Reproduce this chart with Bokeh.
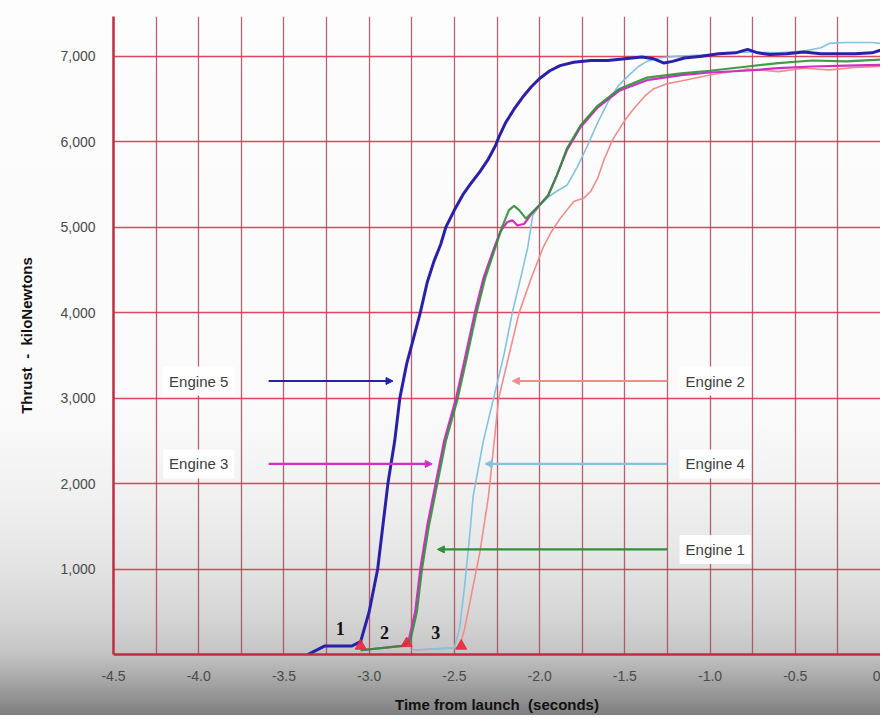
from bokeh.plotting import figure
from bokeh.models import FixedTicker, NumeralTickFormatter, Label, Arrow, NormalHead, Range1d
from bokeh.embed import file_html
from bokeh.resources import INLINE
from bokeh.core.properties import value

# ---------------- data ----------------
e5_t = [-3.36, -3.30, -3.26, -3.10, -3.05, -3.00, -2.95, -2.92, -2.89, -2.85, -2.82, -2.78, -2.74,
        -2.70, -2.66, -2.62, -2.58, -2.55, -2.50, -2.45, -2.40, -2.35, -2.30, -2.26, -2.24, -2.20,
        -2.15, -2.10, -2.05, -2.00, -1.94, -1.88, -1.80, -1.70, -1.60, -1.50, -1.40, -1.33, -1.27,
        -1.22, -1.15, -1.05, -0.95, -0.85, -0.78, -0.72, -0.65, -0.55, -0.45, -0.35, -0.25, -0.15,
        -0.05, 0.0]
e5_v = [0, 60, 100, 100, 150, 500, 1000, 1500, 2000, 2500, 3000, 3400, 3700,
        4000, 4350, 4600, 4800, 5000, 5200, 5380, 5520, 5650, 5800, 5950, 6050, 6220,
        6380, 6520, 6640, 6740, 6830, 6890, 6930, 6950, 6950, 6970, 6990, 6970, 6920,
        6940, 6980, 7000, 7030, 7040, 7080, 7040, 7020, 7030, 7050, 7030, 7030, 7030,
        7040, 7070]

e1_t = [-3.05, -2.80, -2.76, -2.72, -2.69, -2.65, -2.60, -2.55, -2.48, -2.43, -2.37, -2.32, -2.26,
        -2.22, -2.18, -2.15, -2.12, -2.08, -2.04, -2.00, -1.95, -1.90, -1.84, -1.76, -1.66, -1.53,
        -1.37, -1.17, -1.00, -0.78, -0.60, -0.40, -0.20, 0.0]
e1_v = [50, 100, 150, 500, 1000, 1500, 2000, 2500, 3000, 3450, 4000, 4400, 4760,
        5000, 5200, 5250, 5200, 5100, 5180, 5260, 5370, 5600, 5920, 6190, 6420, 6620,
        6750, 6800, 6830, 6880, 6920, 6950, 6940, 6960]

e3_t = [-3.05, -2.81, -2.77, -2.73, -2.70, -2.66, -2.61, -2.56, -2.49, -2.44, -2.38, -2.33, -2.27,
        -2.23, -2.19, -2.16, -2.13, -2.09, -2.05, -2.00, -1.95, -1.90, -1.84, -1.76, -1.66, -1.53,
        -1.37, -1.17, -1.00, -0.80, -0.60, -0.40, -0.20, 0.0]
e3_v = [50, 100, 150, 500, 1000, 1500, 2000, 2500, 3000, 3450, 4000, 4400, 4740,
        4950, 5060, 5080, 5020, 5040, 5150, 5260, 5370, 5600, 5900, 6170, 6400, 6600,
        6720, 6780, 6810, 6830, 6860, 6880, 6890, 6900]

e4_t = [-2.75, -2.50, -2.47, -2.44, -2.41, -2.39, -2.33, -2.27, -2.21, -2.16, -2.10, -2.07, -2.04,
        -2.00, -1.95, -1.90, -1.84, -1.78, -1.72, -1.66, -1.60, -1.54, -1.48, -1.42, -1.37, -1.30,
        -1.20, -1.00, -0.80, -0.60, -0.45, -0.35, -0.30, -0.20, -0.05, 0.0]
e4_v = [50, 80, 300, 800, 1400, 1850, 2500, 3000, 3500, 4000, 4500, 4760, 5140,
        5250, 5350, 5420, 5490, 5700, 5950, 6220, 6460, 6650, 6770, 6880, 6940, 6980,
        7000, 7020, 7050, 7040, 7060, 7100, 7150, 7160, 7160, 7150]

e2_t = [-2.75, -2.47, -2.44, -2.40, -2.35, -2.30, -2.24, -2.18, -2.12, -2.05, -1.98, -1.93, -1.88,
        -1.80, -1.74, -1.70, -1.66, -1.62, -1.57, -1.50, -1.45, -1.38, -1.33, -1.25, -1.17, -1.00,
        -0.78, -0.60, -0.45, -0.30, -0.15, 0.0]
e2_v = [50, 80, 300, 700, 1200, 1850, 3000, 3500, 4000, 4400, 4760, 4950, 5100,
        5300, 5340, 5420, 5570, 5800, 6030, 6250, 6380, 6540, 6620, 6680, 6710, 6780,
        6850, 6820, 6860, 6840, 6870, 6880]

# ignition markers and their numbers
ign_t = [-3.05, -2.78, -2.46]
ign_v = [100, 130, 100]
num_text = ["1", "2", "3"]
num_t = [-3.17, -2.91, -2.61]
num_v = [310, 255, 255]

# engine call-outs
eng_names = ["Engine 5", "Engine 3", "Engine 2", "Engine 4", "Engine 1"]
eng_colors = ["#2b20a8", "#d42ec4", "#f08c8c", "#84c2de", "#2f8f3a"]
lab_t = [-4.0, -4.0, -0.97, -0.97, -0.97]
lab_v = [3200, 2230, 3200, 2230, 1230]
arr_start = [-3.59, -3.59, -1.25, -1.25, -1.25]
arr_end = [-2.86, -2.63, -2.16, -2.32, -2.60]

x_ticks = [-4.5, -4.0, -3.5, -3.0, -2.5, -2.0, -1.5, -1.0, -0.5, 0.0]
x_grid = [-4.5 + 0.25 * i for i in range(19)]
y_ticks = [1000, 2000, 3000, 4000, 5000, 6000, 7000]

# ---------------- figure ----------------
p = figure(width=880, height=715, output_backend="svg", toolbar_location=None,
           x_range=Range1d(-4.5, 0.0), y_range=Range1d(0, 7465),
           min_border_left=113, min_border_right=0, min_border_top=16, min_border_bottom=30)
p.background_fill_alpha = 0
p.border_fill_alpha = 0
p.outline_line_color = None
p.styles = {"background": "linear-gradient(to bottom, #fdfdfd 0%, #fafafa 58%, #f0f0f0 70%, "
                          "#e4e4e4 79%, #d6d6d6 86%, #c6c6c6 91%, #b0b0b0 94%, #989898 97%, #7e7e7e 100%)"}

p.xaxis.ticker = FixedTicker(ticks=x_ticks)
p.xaxis.formatter = NumeralTickFormatter(format="0.0")
p.xaxis.major_label_overrides = {0.0: "0"}
p.yaxis.ticker = FixedTicker(ticks=y_ticks)
p.yaxis.formatter = NumeralTickFormatter(format="0,0")
p.xgrid.ticker = FixedTicker(ticks=x_grid)
p.ygrid.ticker = FixedTicker(ticks=y_ticks)
p.xgrid.grid_line_color = "#a8485a"
p.xgrid.grid_line_width = 1.3
p.xgrid.grid_line_alpha = 0.85
p.ygrid.grid_line_color = "#d8344a"
p.ygrid.grid_line_width = 1.6
p.ygrid.grid_line_alpha = 0.9

for ax in (p.xaxis, p.yaxis):
    ax.axis_line_color = "#c02c40"
    ax.axis_line_width = 2.5
    ax.major_tick_line_color = None
    ax.minor_tick_line_color = None
    ax.major_label_text_font = "Liberation Sans"
    ax.major_label_text_font_size = "14px"
    ax.major_label_text_color = "#4a4a4a"
    ax.axis_label_text_font = "Liberation Sans"
    ax.axis_label_text_font_style = "bold"
    ax.axis_label_text_font_size = "15px"
    ax.axis_label_text_color = "#111111"
p.xaxis.major_label_standoff = 10
p.yaxis.major_label_standoff = 12

p.yaxis.axis_label = "Thrust\u00a0\u00a0-\u00a0\u00a0kiloNewtons"
p.yaxis.axis_label_standoff = 22
p.xaxis.axis_label = "Time from launch\u00a0\u00a0(seconds)"
p.xaxis.axis_label_standoff = 12

# ---------------- curves ----------------
p.line(e2_t, e2_v, line_color=eng_colors[2], line_width=1.6)
p.line(e4_t, e4_v, line_color=eng_colors[3], line_width=1.6)
p.line(e3_t, e3_v, line_color=eng_colors[1], line_width=2.2)
p.line(e1_t, e1_v, line_color=eng_colors[4], line_width=2.2, line_alpha=0.9)
p.line(e5_t, e5_v, line_color=eng_colors[0], line_width=3)

p.scatter(ign_t, ign_v, marker="triangle", size=11, color="#e8283c", alpha=0.9)
p.text(x=num_t, y=num_v, text=num_text, text_font=value("Liberation Serif"),
       text_font_style="bold", text_font_size="18px", text_color="#111111",
       text_align="center", text_baseline="middle")

# ---------------- call-outs ----------------
for name, col, lt, lv, a0, a1 in zip(eng_names, eng_colors, lab_t, lab_v, arr_start, arr_end):
    p.add_layout(Label(x=lt, y=lv, text=name, text_font="Liberation Sans", text_font_size="15px",
                       text_color="#404040", text_align="center", text_baseline="middle",
                       background_fill_color="white", background_fill_alpha=0.95, padding=6))
    p.add_layout(Arrow(x_start=a0, y_start=lv, x_end=a1, y_end=lv, line_color=col, line_width=2.2,
                       end=NormalHead(size=7, fill_color=col, line_color=col)))

open("out.html", "w").write(file_html(p, INLINE))
